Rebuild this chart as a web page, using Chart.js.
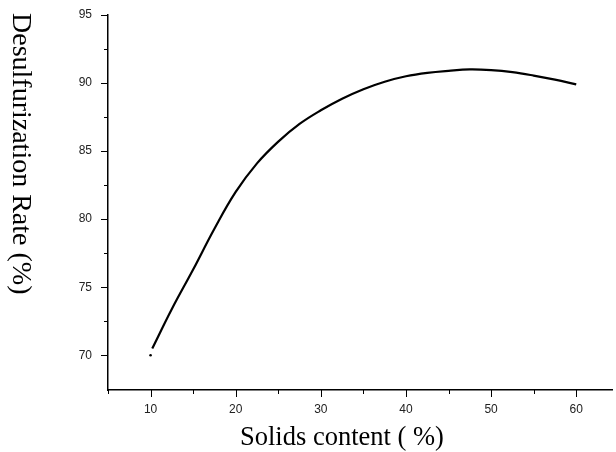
<!DOCTYPE html>
<html><head><meta charset="utf-8">
<script src="https://cdn.jsdelivr.net/npm/chart.js@4"></script>
<style>html,body{margin:0;padding:0;background:#fff;overflow:hidden}</style>
</head>
<body>
<canvas id="c" width="616" height="452"></canvas>
<script>
// Data
const solidsContent = [10.2, 12.5, 15, 17.5, 20, 22.5, 25, 27.5, 30, 32.5, 35, 37.5, 40, 42.5, 45, 47.5, 50, 52.5, 55, 57.5, 60];
const desulfRate    = [70.5, 73.4, 76.3, 79.3, 82.0, 84.1, 85.7, 87.0, 88.0, 88.85, 89.55, 90.1, 90.5, 90.75, 90.9, 91.0, 90.95, 90.8, 90.55, 90.25, 89.9];
const firstPointX = [10];
const firstPointY = [70];
const xMajorTicks = [10, 20, 30, 40, 50, 60];
const xMinorTicks = [5, 15, 25, 35, 45, 55];
const yMajorTicks = [70, 75, 80, 85, 90, 95];
const yMinorTicks = [72.5, 77.5, 82.5, 87.5, 92.5];
const xTitle = 'Solids content ( %)';
const yTitle = 'Desulfurization Rate (%)';

const axisDeco = {
  id: 'axisDeco',
  afterDraw(chart) {
    const ctx = chart.ctx, xs = chart.scales.x, ys = chart.scales.y, a = chart.chartArea;
    ctx.save();
    ctx.strokeStyle = '#000';
    ctx.lineWidth = 1;
    const xt = (v, len) => { const p = Math.round(xs.getPixelForValue(v)) + 0.5; ctx.beginPath(); ctx.moveTo(p, a.bottom); ctx.lineTo(p, a.bottom + len); ctx.stroke(); };
    const yt = (v, len) => { const p = Math.round(ys.getPixelForValue(v)) + 0.5; ctx.beginPath(); ctx.moveTo(a.left, p); ctx.lineTo(a.left - len, p); ctx.stroke(); };
    xMajorTicks.forEach(v => xt(v, 7));
    xMinorTicks.forEach(v => xt(v, 4));
    yMajorTicks.forEach(v => yt(v, 7));
    yMinorTicks.forEach(v => yt(v, 4));
    ctx.fillStyle = '#000';
    ctx.textAlign = 'left';
    ctx.textBaseline = 'alphabetic';
    ctx.font = '26.5px "Liberation Serif", "Times New Roman", serif';
    ctx.fillText(xTitle, 240, 445);
    ctx.font = '28px "Liberation Serif", "Times New Roman", serif';
    ctx.translate(13, 13);
    ctx.rotate(Math.PI / 2);
    ctx.fillText(yTitle, 0, 0);
    ctx.restore();
  }
};

new Chart(document.getElementById('c'), {
  type: 'line',
  data: {
    datasets: [
      {
        data: solidsContent.map((x, i) => ({x, y: desulfRate[i]})),
        borderColor: '#000', borderWidth: 2.2, pointRadius: 0,
        tension: 0.4, fill: false
      },
      {
        data: firstPointX.map((x, i) => ({x, y: firstPointY[i]})),
        showLine: false, pointRadius: 1.3, pointBackgroundColor: '#000', pointBorderWidth: 0
      }
    ]
  },
  options: {
    responsive: false, animation: false, devicePixelRatio: 1,
    layout: { padding: { top: 15, right: 0, left: 0, bottom: 0 } },
    plugins: { legend: { display: false }, tooltip: { enabled: false } },
    scales: {
      x: {
        type: 'linear', min: 5, max: 64.2,
        afterBuildTicks: s => { s.ticks = xMajorTicks.map(v => ({value: v})); },
        afterFit: s => { s.height = 62; s.paddingLeft = 0; s.paddingRight = 0; },
        grid: { display: false, drawTicks: false },
        border: { display: true, color: '#000', width: 1.5 },
        ticks: { padding: 12, color: '#222', font: { family: '"Liberation Sans", Arial, sans-serif', size: 12 }, maxRotation: 0, autoSkip: false }
      },
      y: {
        type: 'linear', min: 67.45, max: 95,
        afterBuildTicks: s => { s.ticks = yMajorTicks.map(v => ({value: v})); },
        afterFit: s => { s.width = 108; s.paddingTop = 0; s.paddingBottom = 0; },
        grid: { display: false, drawTicks: false },
        border: { display: true, color: '#000', width: 1.5 },
        ticks: { padding: 16, color: '#222', font: { family: '"Liberation Sans", Arial, sans-serif', size: 12 }, autoSkip: false }
      }
    }
  },
  plugins: [axisDeco]
});
</script>
</body></html>
